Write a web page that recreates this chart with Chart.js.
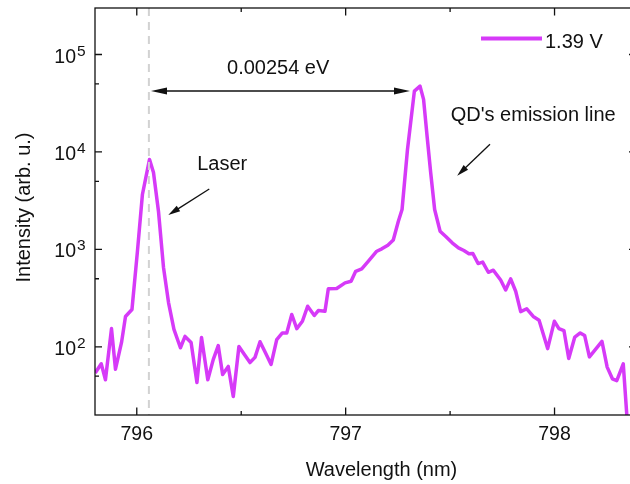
<!DOCTYPE html>
<html>
<head>
<meta charset="utf-8">
<script src="https://cdn.jsdelivr.net/npm/chart.js@4.4.1/dist/chart.umd.min.js"></script>
<style>
  html, body { margin: 0; padding: 0; background: #fff; overflow: hidden; }
  #wrap { position: relative; width: 630px; height: 484px; overflow: hidden; }
  #wrap canvas { position: absolute; left: 0; top: 0; }
</style>
</head>
<body>
<div id="wrap"><canvas id="specChart" width="650" height="484"></canvas></div>
<script>
const lineColor = '#d63af8';
const inkColor = '#111';
const fontFamily = '"Liberation Sans", Arial, Helvetica, sans-serif';

// spectrum (nm, arb. u.)
const wavelength = [
  795.801, 795.830, 795.850, 795.879, 795.898, 795.927, 795.946, 795.977, 796.003, 796.027,
  796.061, 796.080, 796.104, 796.128, 796.152, 796.178, 796.209, 796.231, 796.260, 796.288,
  796.310, 796.340, 796.366, 796.390, 796.411, 796.438, 796.462, 796.489, 796.516, 796.542,
  796.566, 796.590, 796.616, 796.643, 796.670, 796.697, 796.718, 796.742, 796.766, 796.793,
  796.818, 796.850, 796.869, 796.901, 796.917, 796.957, 796.997, 797.026, 797.048, 797.077,
  797.109, 797.149, 797.173, 797.202, 797.228, 797.252, 797.270, 797.296, 797.329, 797.356,
  797.373, 797.390, 797.407, 797.426, 797.452, 797.478, 797.510, 797.540, 797.566, 797.590,
  797.609, 797.634, 797.656, 797.683, 797.707, 797.742, 797.766, 797.790, 797.814, 797.838,
  797.867, 797.898, 797.926, 797.967, 797.999, 798.021, 798.045, 798.068, 798.097, 798.123,
  798.144, 798.167, 798.227, 798.252, 798.277, 798.298, 798.329, 798.350
];
const intensity = [
  54, 67, 46, 154, 59, 111, 205, 242, 950, 3660,
  8380, 6160, 2450, 652, 285, 151, 98, 128, 111, 43,
  125, 46, 74, 103, 52, 63, 31, 101, 83, 69,
  78, 113, 87, 66, 119, 139, 139, 215, 154, 183,
  261, 210, 236, 232, 394, 397, 454, 472, 597, 632,
  757, 958, 1014, 1104, 1249, 1934, 2570, 10600, 42100, 47400,
  34600, 14400, 6160, 2570, 1538, 1366, 1169, 1038, 974, 903,
  908, 716, 742, 583, 612, 485, 383, 499, 372, 230,
  246, 205, 188, 96, 183, 154, 147, 76, 126, 139,
  131, 79, 114, 62, 47, 45, 67, 15
];
const seriesLabel = '1.39 V';

const xTicks = [796, 796.5, 797, 797.5, 798];
const yTicks = [50, 100, 500, 1000, 5000, 10000, 50000, 100000];

// annotations, in data units
const laserLine = 796.058;
const gapArrow = { from: 796.068, to: 797.308, y: 42300, text: '0.00254 eV', tx: 796.432, ty: 63100 };
const laserNote = { text: 'Laser', tx: 796.289, ty: 6530, x1: 796.347, y1: 4170, x2: 796.151, y2: 2255 };
const qdNote = { text: "QD's emission line", tx: 797.503, ty: 20800, x1: 797.691, y1: 12000, x2: 797.534, y2: 5715 };

function arrowHead(ctx, x1, y1, x2, y2, len, half) {
  const a = Math.atan2(y2 - y1, x2 - x1);
  ctx.beginPath();
  ctx.moveTo(x2, y2);
  ctx.lineTo(x2 - len * Math.cos(a) + half * Math.sin(a), y2 - len * Math.sin(a) - half * Math.cos(a));
  ctx.lineTo(x2 - len * Math.cos(a) - half * Math.sin(a), y2 - len * Math.sin(a) + half * Math.cos(a));
  ctx.closePath();
  ctx.fill();
}

function arrow(ctx, x1, y1, x2, y2, len, half) {
  const a = Math.atan2(y2 - y1, x2 - x1);
  ctx.beginPath();
  ctx.moveTo(x1, y1);
  ctx.lineTo(x2 - len * 0.8 * Math.cos(a), y2 - len * 0.8 * Math.sin(a));
  ctx.stroke();
  arrowHead(ctx, x1, y1, x2, y2, len, half);
}

const extras = {
  id: 'extras',
  afterDatasetsDraw(chart) {
    const { ctx, chartArea: a, scales: { x } } = chart;
    const px = x.getPixelForValue(laserLine);
    ctx.save();
    ctx.strokeStyle = '#d2d2d2';
    ctx.lineWidth = 2;
    ctx.setLineDash([8, 6]);
    ctx.beginPath();
    ctx.moveTo(px, a.top);
    ctx.lineTo(px, a.bottom);
    ctx.stroke();
    ctx.restore();
  },
  afterDraw(chart) {
    const { ctx, chartArea: a, scales: { x, y } } = chart;
    ctx.save();
    ctx.strokeStyle = inkColor;
    ctx.fillStyle = inkColor;

    // frame
    ctx.lineWidth = 1.3;
    ctx.strokeRect(a.left, a.top, a.right - a.left, a.bottom - a.top);

    // inward ticks on all four sides
    ctx.beginPath();
    xTicks.forEach(v => {
      const p = x.getPixelForValue(v);
      const len = Number.isInteger(v) ? 7.5 : 4;
      ctx.moveTo(p, a.bottom); ctx.lineTo(p, a.bottom - len);
      ctx.moveTo(p, a.top); ctx.lineTo(p, a.top + len);
    });
    yTicks.forEach(v => {
      const p = y.getPixelForValue(v);
      const major = Number.isInteger(Math.log10(v));
      const len = major ? 7 : 4;
      ctx.moveTo(a.left, p); ctx.lineTo(a.left + len, p);
      ctx.moveTo(a.right, p); ctx.lineTo(a.right - len, p);
    });
    ctx.stroke();

    // y tick labels as 10 with a raised exponent
    yTicks.filter(v => Number.isInteger(Math.log10(v))).forEach(v => {
      const p = y.getPixelForValue(v);
      const exp = String(Math.round(Math.log10(v)));
      const edge = a.left - 19;
      ctx.textBaseline = 'alphabetic';
      ctx.font = '19.5px ' + fontFamily;
      ctx.textAlign = 'right';
      ctx.fillText('10', edge, p + 8);
      ctx.font = '15.5px ' + fontFamily;
      ctx.textAlign = 'left';
      ctx.fillText(exp, edge + 1, p + 1);
    });

    // axis titles
    ctx.font = '20px ' + fontFamily;
    ctx.textAlign = 'center';
    ctx.textBaseline = 'middle';
    ctx.fillText('Wavelength (nm)', 381.5, 470.5);
    ctx.save();
    ctx.translate(24, 207.5);
    ctx.rotate(-Math.PI / 2);
    ctx.fillText('Intensity (arb. u.)', 0, 0);
    ctx.restore();

    // energy gap arrow
    ctx.lineWidth = 1.5;
    const gy = y.getPixelForValue(gapArrow.y);
    const g1 = x.getPixelForValue(gapArrow.from);
    const g2 = x.getPixelForValue(gapArrow.to);
    ctx.beginPath();
    ctx.moveTo(g1 + 12, gy);
    ctx.lineTo(g2 - 12, gy);
    ctx.stroke();
    arrowHead(ctx, g2, gy, g1, gy, 16, 3.5);
    arrowHead(ctx, g1, gy, g2, gy, 16, 3.5);

    ctx.textAlign = 'left';
    ctx.textBaseline = 'alphabetic';
    ctx.font = '20px ' + fontFamily;
    ctx.fillText(gapArrow.text, x.getPixelForValue(gapArrow.tx), y.getPixelForValue(gapArrow.ty));

    [laserNote, qdNote].forEach(n => {
      ctx.fillText(n.text, x.getPixelForValue(n.tx), y.getPixelForValue(n.ty));
      ctx.lineWidth = 1.3;
      arrow(ctx, x.getPixelForValue(n.x1), y.getPixelForValue(n.y1),
        x.getPixelForValue(n.x2), y.getPixelForValue(n.y2), 12, 3.2);
    });

    // legend inside the plot, top right
    const ly = a.top + 30.5;
    ctx.strokeStyle = lineColor;
    ctx.lineWidth = 4;
    ctx.beginPath();
    ctx.moveTo(a.right - 155, ly);
    ctx.lineTo(a.right - 94, ly);
    ctx.stroke();
    ctx.fillStyle = inkColor;
    ctx.fillText(chart.data.datasets[0].label, a.right - 91, ly + 9.5);
    ctx.restore();
  }
};

new Chart(document.getElementById('specChart'), {
  type: 'line',
  data: {
    datasets: [{
      label: seriesLabel,
      data: wavelength.map((w, i) => ({ x: w, y: intensity[i] })),
      borderColor: lineColor,
      backgroundColor: lineColor,
      borderWidth: 3.5,
      borderJoinStyle: 'round',
      pointRadius: 0,
      tension: 0,
      fill: false
    }]
  },
  options: {
    responsive: false,
    animation: false,
    events: [],
    layout: { padding: { left: 0, right: 14, top: 8, bottom: 0 } },
    plugins: { legend: { display: false }, tooltip: { enabled: false } },
    scales: {
      x: {
        type: 'linear',
        min: 795.8,
        max: 798.39,
        afterBuildTicks: s => { s.ticks = xTicks.map(v => ({ value: v })); },
        afterFit: s => { s.height = 69; },
        grid: { display: false },
        border: { display: false },
        ticks: {
          autoSkip: false,
          maxRotation: 0,
          padding: 0,
          color: inkColor,
          font: { family: fontFamily, size: 19.5 },
          callback: v => Number.isInteger(v) ? String(v) : ''
        }
      },
      y: {
        type: 'logarithmic',
        min: 20,
        max: 300000,
        afterBuildTicks: s => { s.ticks = yTicks.map(v => ({ value: v })); },
        afterFit: s => { s.width = 95; },
        grid: { display: false },
        border: { display: false },
        ticks: { display: false }
      }
    }
  },
  plugins: [extras]
});
</script>
</body>
</html>
